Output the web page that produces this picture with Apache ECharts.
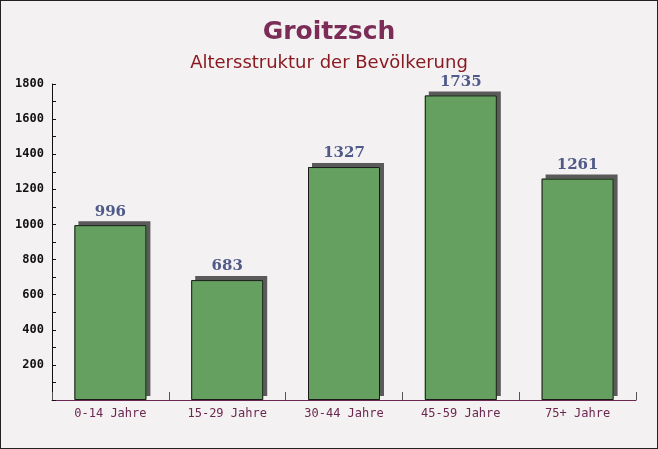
<!DOCTYPE html>
<html><head><meta charset="utf-8">
<script src="https://cdn.jsdelivr.net/npm/echarts@6/dist/echarts.min.js"></script>
<style>html,body{margin:0;padding:0;}#c{width:656px;height:447px;border:1px solid #222;background:#f4f1f2;}</style>
</head><body><div id="c"></div>
<script>
const categories = ['0-14 Jahre','15-29 Jahre','30-44 Jahre','45-59 Jahre','75+ Jahre'];
const values = [996, 683, 1327, 1735, 1261];
const chart = echarts.init(document.getElementById('c'));
chart.setOption({
  animation:false,
  title:[
    {text:'Groitzsch',left:'center',top:14,textStyle:{fontFamily:'DejaVu Sans',fontWeight:'bold',fontSize:25,color:'#7b2d58'}},
    {text:'Altersstruktur der Bevölkerung',left:'center',top:48,textStyle:{fontFamily:'DejaVu Sans',fontWeight:'normal',fontSize:18,color:'#8a1a22'}}
  ],
  grid:{left:51,right:21,top:83,bottom:48},
  xAxis:{type:'category',data:categories,
    axisLine:{lineStyle:{color:'#6b2850',width:1}},
    axisTick:{show:true,inside:true,length:8,lineStyle:{color:'#555'}},
    axisLabel:{fontFamily:'DejaVu Sans Mono',fontSize:12,color:'#6b2850',margin:8}},
  yAxis:{type:'value',min:0,max:1800,interval:200,
    axisLine:{show:true,lineStyle:{color:'#111'}},
    axisTick:{show:true,inside:true,length:4,lineStyle:{color:'#111'}},
    minorTick:{show:true,splitNumber:2,length:4,lineStyle:{color:'#111'}},
    splitLine:{show:false},
    axisLabel:{fontFamily:'DejaVu Sans Mono',fontWeight:'bold',fontSize:12,color:'#111',margin:8,
      formatter:v=>v===0?'':v}},
  series:[
    {type:'bar',data:values,barWidth:72,z:1,silent:true,
      itemStyle:{color:'#65a060',shadowColor:'#5a5a5a',shadowOffsetX:4,shadowOffsetY:-4,shadowBlur:0}},
    {type:'bar',data:values,barWidth:72,barGap:'-100%',z:2,
      itemStyle:{color:'#65a060',borderColor:'#1a1a1a',borderWidth:1},
      label:{show:true,position:'top',distance:6,fontFamily:'DejaVu Serif',fontWeight:'bold',fontSize:15,color:'#505a88'}}
  ]
});
</script></body></html>
